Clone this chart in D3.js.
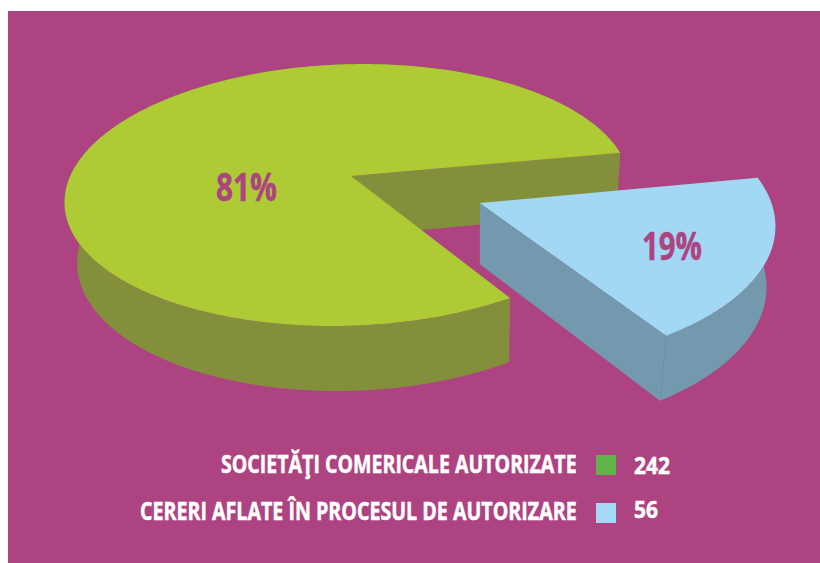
<!DOCTYPE html>
<html>
<head>
<meta charset="utf-8">
<script src="https://cdn.jsdelivr.net/npm/d3@7"></script>
<style>
  html, body { margin: 0; padding: 0; background: #fff; }
  svg { display: block; }
  text { font-family: "Open Sans", sans-serif; font-weight: 700; }
</style>
</head>
<body>
<svg id="chart" width="820" height="563"></svg>
<script>
// data
const categories = ['SOCIETĂŢI COMERICALE AUTORIZATE', 'CERERI AFLATE ÎN PROCESUL DE AUTORIZARE'];
const values = [242, 56];
const percentLabels = ['81%', '19%'];
const topColors = ['#aecb35', '#a3d8f5'];
const sideColors = ['#838f3b', '#7299ad'];
const legendColors = ['#60b34a', '#a4d8f6'];

const svg = d3.select('#chart');
const deg = Math.PI / 180;

svg.append('rect')
  .attr('x', 8).attr('y', 11).attr('width', 812).attr('height', 552)
  .attr('fill', '#ad4481');

// perspective camera: u,v are on the pie disc (radius 1), z goes down the extrusion
const camera = { cx: 351, cy: 176, a: 280, b: 128, tilt: -7, c: 62, d: 4, k: 0.145, j: 0.012, m: 0.03 };

function project(u, v, z) {
  const w = 1 - camera.k * v + camera.j * u + camera.m * z;
  return [
    camera.cx + (camera.a * u + camera.d * z) / w,
    camera.cy + (camera.b * v + camera.tilt * u + camera.c * z) / w
  ];
}

const pie = d3.pie().sort(null).startAngle(150 * deg).endAngle(510 * deg);
const arcs = pie(values);
const line = d3.line();

// the small slice is pulled out of the pie and drawn a touch larger, in disc coordinates
const explode = [[0, 0], [0.447, 0.23]];
const radius = [1, 1.02];

arcs.forEach((d, i) => {
  const [ox, oy] = explode[i];
  const rim = (a, z) => project(ox + radius[i] * Math.sin(a), oy - radius[i] * Math.cos(a), z);
  const apex = z => project(ox, oy, z);
  const n = Math.ceil((d.endAngle - d.startAngle) / deg) * 2;
  const angles = d3.range(n + 1).map(j => d.startAngle + (d.endAngle - d.startAngle) * j / n);

  const g = svg.append('g');

  // outer wall
  g.append('path')
    .attr('d', line(angles.map(a => rim(a, 0)).concat(angles.slice().reverse().map(a => rim(a, 1)))) + 'Z')
    .attr('fill', sideColors[i]);

  // the cut face that looks at the viewer
  g.append('path')
    .attr('d', line([apex(0), rim(d.endAngle, 0), rim(d.endAngle, 1), apex(1)]) + 'Z')
    .attr('fill', sideColors[i]);

  // top face
  g.append('path')
    .attr('d', line([apex(0)].concat(angles.map(a => rim(a, 0)))) + 'Z')
    .attr('fill', topColors[i]);
});

// no condensed face is installed, so squeeze the text to the width in the picture
function fitText(t, x, y, size, width, color) {
  const el = svg.append('text')
    .attr('font-size', size)
    .attr('fill', color)
    .attr('stroke', color)
    .attr('stroke-width', 0.5)
    .text(t);
  const sx = width / el.node().getComputedTextLength();
  el.attr('transform', `translate(${x},${y}) scale(${sx},1)`);
}

// percent labels
const labelSpots = [[216, 201, 61], [642, 260, 60]];
percentLabels.forEach((t, i) => {
  fitText(t, labelSpots[i][0], labelSpots[i][1], 39, labelSpots[i][2], '#ad4481');
});

// legend
const textY = [473, 520];
const numberY = [474, 518];
const swatchY = [455, 503];
const legendStart = [221, 140];
const numberWidth = [36, 24];
categories.forEach((t, i) => {
  fitText(t, legendStart[i], textY[i], 25, 577 - legendStart[i], '#fff');
  svg.append('rect')
    .attr('x', 596).attr('y', swatchY[i])
    .attr('width', 20).attr('height', 20)
    .attr('fill', legendColors[i]);
  fitText(String(values[i]), 634, numberY[i], 24, numberWidth[i], '#fff');
});
</script>
</body>
</html>
